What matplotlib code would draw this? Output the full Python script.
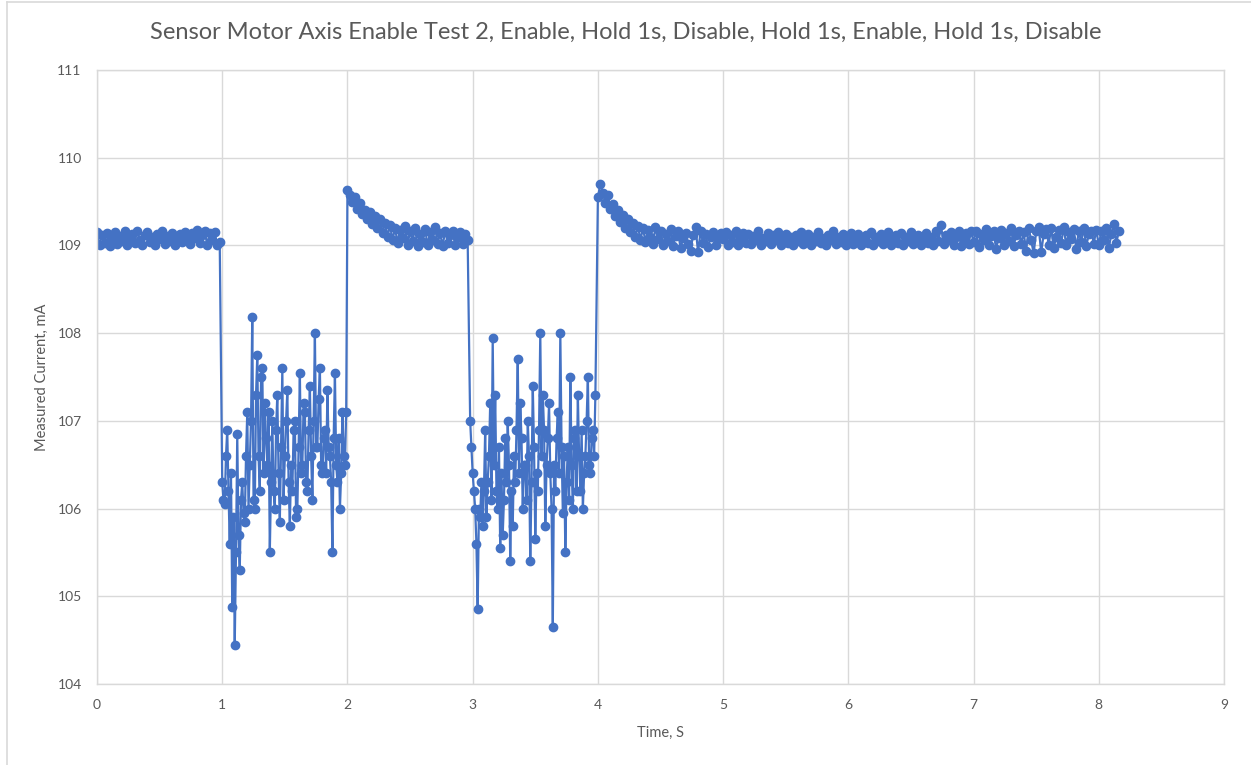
import numpy as np
import matplotlib
matplotlib.use("Agg")
import matplotlib.pyplot as plt
from matplotlib.lines import Line2D

# motor enabled, 0.00 - 0.98 s (every 0.02 s)
on1 = [109.15, 109.00, 109.12, 109.03, 109.14, 108.99, 109.09, 109.15, 109.02, 109.11,
       109.05, 109.16, 109.01, 109.10, 109.13, 109.03, 109.16, 109.06, 109.00, 109.12,
       109.15, 109.04, 109.10, 109.01, 109.13, 109.07, 109.16, 109.02, 109.11, 109.05,
       109.14, 109.01, 109.09, 109.13, 109.04, 109.15, 109.07, 109.02, 109.14, 109.08,
       109.18, 109.03, 109.12, 109.16, 109.01, 109.14, 109.06, 109.15, 109.00, 109.04]

# disabled, 1.00 - 1.99 s (every 0.01 s)
off1 = [106.30, 106.10, 106.05, 106.60, 106.90, 106.20, 105.60, 106.40, 104.88, 105.90,
        104.45, 105.50, 106.85, 105.70, 105.30, 106.10, 106.30, 105.95, 105.85, 106.60,
        107.10, 106.00, 106.50, 107.00, 108.18, 106.10, 106.00, 107.30, 107.75, 106.60,
        106.20, 107.50, 107.60, 106.40, 107.20, 106.80, 106.50, 107.10, 105.50, 106.30,
        107.00, 106.20, 106.00, 106.90, 107.30, 106.40, 105.85, 106.70, 107.60, 106.10,
        106.60, 107.00, 107.35, 106.30, 105.80, 106.50, 106.20, 106.90, 107.00, 105.90,
        106.00, 106.70, 107.55, 106.40, 106.50, 107.20, 107.10, 106.30, 106.20, 106.90,
        107.40, 106.60, 106.10, 107.00, 108.00, 106.70, 106.70, 107.25, 107.60, 106.50,
        106.40, 106.80, 106.90, 106.40, 107.35, 106.70, 106.60, 106.30, 105.50, 106.80,
        107.55, 106.50, 106.30, 106.80, 106.00, 106.40, 107.10, 106.60, 106.50, 107.10]

# enabled again, 2.00 - 2.96 s (every 0.02 s)
on2 = [109.63, 109.58, 109.50, 109.55, 109.42, 109.48, 109.36, 109.40, 109.30, 109.38,
       109.24, 109.33, 109.20, 109.30, 109.14, 109.26, 109.10, 109.23, 109.06, 109.20,
       109.03, 109.18, 109.08, 109.22, 109.01, 109.16, 109.05, 109.20, 108.99, 109.13,
       109.04, 109.19, 109.00, 109.15, 109.06, 109.21, 109.02, 109.14, 108.99, 109.17,
       109.03, 109.12, 109.16, 109.00, 109.10, 109.15, 109.02, 109.13, 109.06]

# disabled, 2.98 - 3.98 s (every 0.01 s)
off2 = [107.00, 106.70, 106.40, 106.20, 106.00, 105.60, 104.85, 106.00, 105.90, 106.30,
        105.80, 106.20, 106.90, 105.90, 106.30, 106.60, 107.20, 106.10, 107.95, 106.50,
        107.30, 106.20, 106.00, 106.70, 105.55, 106.40, 105.70, 106.10, 106.80, 106.30,
        107.00, 106.50, 105.40, 106.20, 105.80, 106.60, 106.30, 106.90, 107.70, 106.40,
        107.20, 106.80, 106.00, 106.50, 106.50, 106.10, 107.00, 106.60, 105.40, 106.30,
        107.40, 106.70, 105.65, 106.40, 106.20, 106.90, 108.00, 106.60, 107.30, 106.90,
        105.80, 106.50, 106.80, 107.20, 106.40, 106.00, 104.65, 106.50, 106.20, 106.80,
        107.10, 106.40, 108.00, 106.70, 105.95, 106.60, 105.50, 106.30, 106.70, 106.10,
        107.50, 106.50, 106.00, 106.80, 106.90, 106.20, 107.30, 106.60, 106.20, 106.90,
        106.00, 106.40, 106.60, 107.00, 107.50, 106.50, 106.40, 106.80, 106.90, 106.60,
        107.30]

# enabled, 4.00 - 8.16 s (every 0.02 s)
on3 = [109.55, 109.70, 109.60, 109.48, 109.57, 109.42, 109.47, 109.33, 109.40, 109.27,
       109.35, 109.20, 109.30, 109.15, 109.26, 109.10, 109.22, 109.06, 109.20, 109.04,
       109.18, 109.10, 109.02, 109.21, 109.07, 109.16, 109.00, 109.13, 109.05, 109.19,
       108.99, 109.11, 109.16, 108.97, 109.08, 109.14, 109.02, 108.94, 109.12, 109.21,
       108.92, 109.16, 109.03, 109.13, 108.98, 109.10, 109.15, 109.01, 109.09, 109.14,
       109.07, 109.15, 109.01, 109.12, 109.04, 109.16, 109.00, 109.10, 109.14, 109.03,
       109.13, 109.02, 109.11, 109.06, 109.16, 109.01, 109.09, 109.05, 109.14, 109.02,
       109.12, 109.06, 109.15, 109.00, 109.08, 109.13, 109.03, 109.10, 109.01, 109.12,
       109.05, 109.15, 109.02, 109.09, 109.13, 109.00, 109.10, 109.05, 109.15, 109.03,
       109.08, 109.00, 109.12, 109.06, 109.16, 109.02, 109.10, 109.04, 109.13, 109.01,
       109.10, 109.14, 109.02, 109.08, 109.13, 109.00, 109.06, 109.12, 109.03, 109.15,
       109.01, 109.10, 109.05, 109.13, 109.02, 109.08, 109.15, 109.01, 109.07, 109.12,
       109.03, 109.14, 109.00, 109.10, 109.05, 109.15, 109.02, 109.09, 109.12, 109.01,
       109.07, 109.14, 109.03, 109.10, 109.00, 109.16, 109.05, 109.23, 109.02, 109.12,
       109.06, 109.15, 109.01, 109.10, 109.17, 108.99, 109.08, 109.14, 109.02, 109.16,
       109.04, 109.17, 108.98, 109.13, 109.06, 109.19, 109.00, 109.11, 109.16, 108.96,
       109.09, 109.18, 109.01, 109.14, 109.05, 109.20, 108.99, 109.12, 109.17, 109.02,
       109.15, 108.94, 109.20, 109.06, 108.91, 109.16, 109.21, 108.92, 109.13, 109.19,
       109.01, 109.20, 108.97, 109.10, 109.18, 109.03, 109.21, 109.00, 109.15, 109.07,
       109.19, 108.96, 109.16, 109.04, 109.20, 108.99, 109.13, 109.17, 109.02, 109.18,
       109.00, 109.16, 109.06, 109.20, 108.97, 109.13, 109.25, 109.03, 109.16]

# (start time, sample step, readings)
segments = [(0.00, 0.02, on1), (1.00, 0.01, off1), (2.00, 0.02, on2),
            (2.98, 0.01, off2), (4.00, 0.02, on3)]

time_s = np.concatenate([start + step * np.arange(len(v)) for start, step, v in segments])
current = np.concatenate([np.array(v) for _, _, v in segments])

x_ticks = list(range(0, 10))
y_ticks = list(range(104, 112))

plt.rcParams['font.family'] = ['Lato', 'DejaVu Sans']
grey = '#595959'
blue = '#4472C4'

fig = plt.figure(figsize=(12.51, 7.65), dpi=100)
ax = fig.add_axes([97 / 1251, 1 - 684 / 765, (1224 - 97) / 1251, (684 - 70) / 765])

ax.plot(time_s, current, color=blue, lw=1.6, marker='o', ms=6, mec=blue, mfc=blue)

ax.set_xlim(0, 9)
ax.set_ylim(104, 111)
ax.set_xticks(x_ticks)
ax.set_yticks(y_ticks)
ax.grid(True, color='#D9D9D9', lw=1)
ax.set_axisbelow(True)
for s in ax.spines.values():
    s.set_color('#D9D9D9')
    s.set_linewidth(1)
ax.tick_params(length=0, colors=grey, labelsize=10)
ax.tick_params(axis='x', pad=11)
ax.tick_params(axis='y', pad=11)

ax.set_xlabel('Time, S', color=grey, fontsize=10.5)
ax.set_ylabel('Measured Current, mA', color=grey, fontsize=10.5)
ax.xaxis.set_label_coords(0.5, -(726 - 684) / 614)
ax.yaxis.set_label_coords(-(97 - 49) / 1127, 0.5)

fig.suptitle('Sensor Motor Axis Enable Test 2, Enable, Hold 1s, Disable, Hold 1s, Enable, Hold 1s, Disable',
             color=grey, fontsize=17, y=1 - 32 / 765, va='center')

# chart area border (left and top edges are inside the crop)
fig.add_artist(Line2D([7 / 1251, 7 / 1251], [0, 1 - 2 / 765], color='#D9D9D9', lw=1.2))
fig.add_artist(Line2D([7 / 1251, 1], [1 - 2 / 765, 1 - 2 / 765], color='#D9D9D9', lw=1.2))

fig.savefig('out.png', dpi=100)
